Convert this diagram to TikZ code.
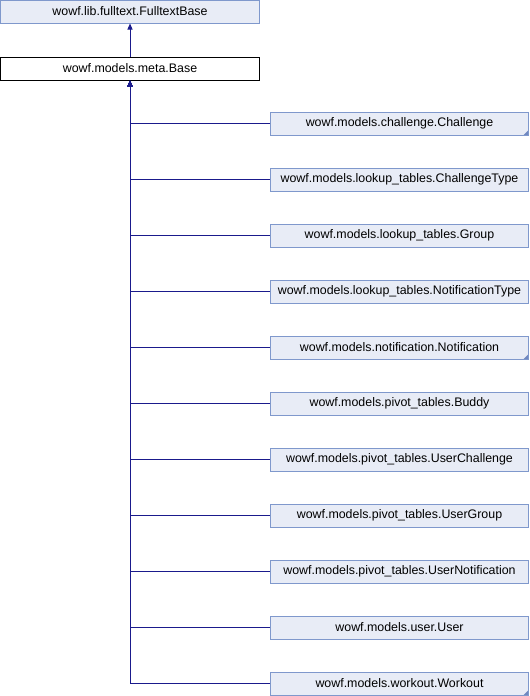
\documentclass[tikz,border=0pt]{standalone}
\usepackage{fontspec}
\setmainfont{Liberation Sans}
\usetikzlibrary{arrows.meta}
\definecolor{boxfill}{HTML}{E8ECF6}
\definecolor{boxline}{HTML}{7F98CC}
\definecolor{edgecol}{HTML}{1A1A8C}
\definecolor{cornercol}{HTML}{7088C0}
\tikzset{
  cls/.style={draw=boxline, fill=boxfill, line width=1pt, minimum height=23pt, inner sep=0pt, font=\fontsize{12.4}{14}\selectfont},
  curcls/.style={draw=black, fill=white, line width=1pt, minimum height=23pt, inner sep=0pt, font=\fontsize{12.4}{14}\selectfont},
  corner/.style={path picture={\fill[cornercol] (path picture bounding box.south east) -- ++(-5pt,0) -- ++(5pt,5pt) -- cycle;}},
  inh/.style={draw=edgecol, line width=1pt, -{Triangle[length=6pt,width=5pt]}}
}
\begin{document}
\begin{tikzpicture}[x=1pt,y=-1pt]
\useasboundingbox (0,0) rectangle (530,696);
\node[cls, minimum width=259pt] (top) at (130,11.5) {wowf.lib.fulltext.FulltextBase};
\node[curcls, minimum width=259pt] (base) at (130,68.5) {wowf.models.meta.Base};
\draw[inh] (base.north) -- (top.south);
\foreach \name/\txt/\k/\c in {
  c0/wowf.models.challenge.Challenge/0/corner,
  c1/wowf.models.lookup\_tables.ChallengeType/1/,
  c2/wowf.models.lookup\_tables.Group/2/,
  c3/wowf.models.lookup\_tables.NotificationType/3/,
  c4/wowf.models.notification.Notification/4/corner,
  c5/wowf.models.pivot\_tables.Buddy/5/,
  c6/wowf.models.pivot\_tables.UserChallenge/6/,
  c7/wowf.models.pivot\_tables.UserGroup/7/,
  c8/wowf.models.pivot\_tables.UserNotification/8/,
  c9/wowf.models.user.User/9/,
  c10/wowf.models.workout.Workout/10/corner}{
  \node[cls, minimum width=258pt, \c] (\name) at (399.5,123.5+56*\k) {\txt};
  \draw[inh] (\name.west) -- (\name.west -| base.south) -- (base.south);
}
\end{tikzpicture}
\end{document}
